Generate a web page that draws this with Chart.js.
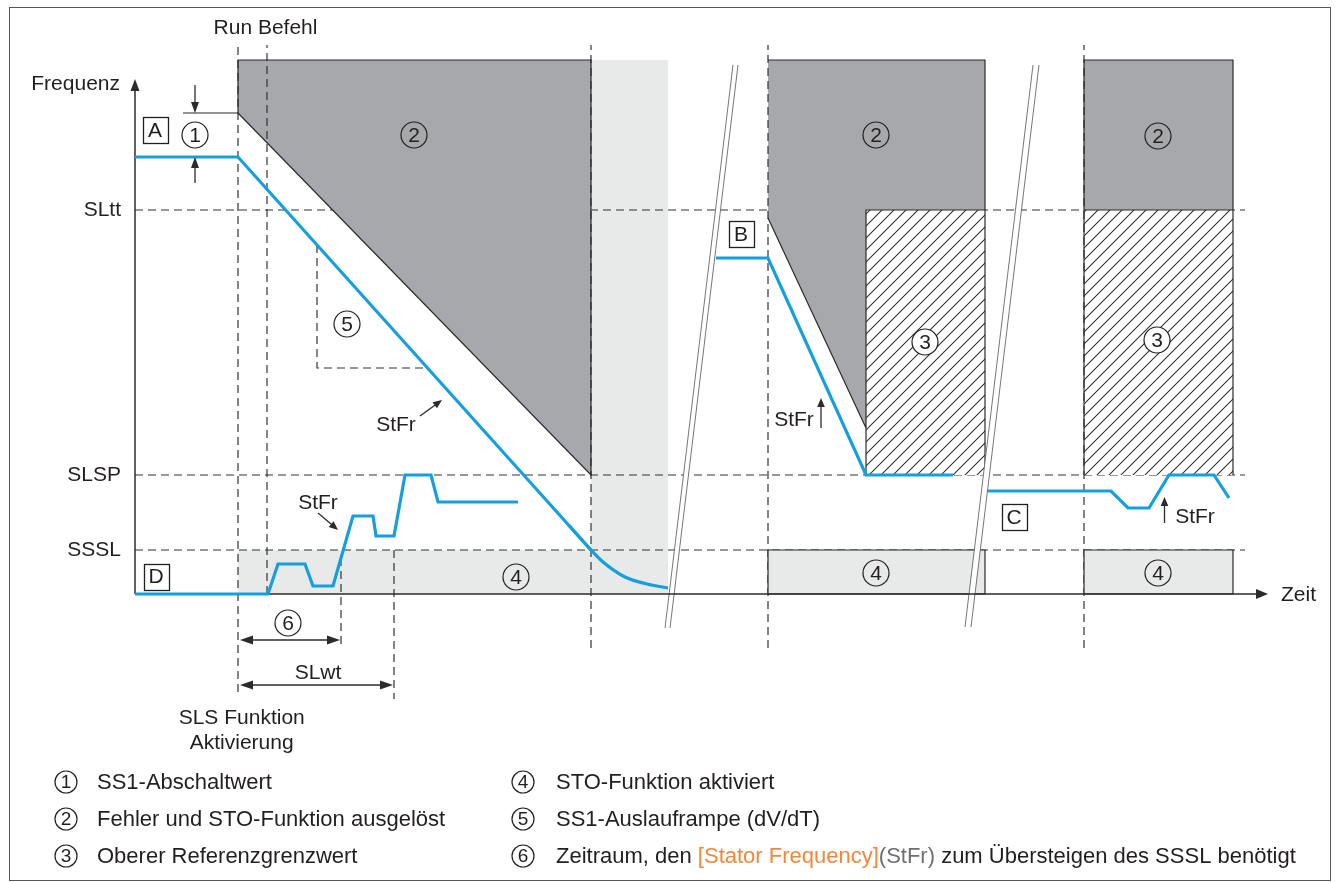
<!DOCTYPE html>
<html lang="de">
<head>
<meta charset="utf-8">
<title>SLS – Frequenz / Zeit</title>
<script src="https://cdn.jsdelivr.net/npm/chart.js@4.4.1/dist/chart.umd.min.js"></script>
<style>
html,body{margin:0;padding:0;background:#fff;}
canvas{display:block;}
</style>
</head>
<body>
<canvas id="c" width="1339" height="882"></canvas>
<script>
// ---------- thresholds (frequency units) ----------
const thresholdNames  = ['SLtt', 'SLSP', 'SSSL'];
const thresholdValues = [38.4, 11.9, 4.4];
const thresholdEnd = 111.0;

// ---------- event markers (time units) ----------
const eventTimes = [10.3, 13.2, 20.6, 25.9, 45.6, 63.3, 94.9];
const eventFrom  = [-9.8, 0, 3.6, 4.4, -5.4, -5.4, -5.4];
const eventTo    = [54.9, 54.9, -5.4, -10.5, 54.9, 54.9, 54.9];

// SS1 ramp slope triangle (5)
const rampTri_t = [18.2, 18.2, 29.25];
const rampTri_f = [34.9, 22.6, 22.6];

// ---------- StFr curves ----------
const caseA_t = [0, 10.3, 45.6];
const caseA_f = [43.7, 43.7, 4.4];
const caseAtail_t = [43.4, 45.6, 46.8, 49.0, 51.2, 53.3];
const caseAtail_f = [6.85, 4.4, 3.2, 1.7, 1.0, 0.6];
const caseB_t = [58.1, 63.3, 73.1, 81.8];
const caseB_f = [33.6, 33.6, 11.9, 11.9];
const caseC_t = [85.3, 97.6, 99.3, 101.4, 103.4, 107.9, 109.4];
const caseC_f = [10.3, 10.3, 8.6, 8.6, 11.9, 11.9, 9.6];
const caseD_t = [0, 13.3, 14.3, 17.0, 17.8, 19.8, 21.8, 23.8, 24.1, 25.9, 27.0, 29.6, 30.3, 38.3];
const caseD_f = [0, 0, 3.0, 3.0, 0.8, 0.8, 7.8, 7.8, 5.8, 5.8, 11.9, 11.9, 9.2, 9.2];

// ---------- zones ----------
const faultZone1_t = [10.3, 10.3, 45.6, 45.6];
const faultZone1_f = [48.1, 53.4, 53.4, 11.9];
const faultZone2_t = [63.3, 85.0, 85.0, 73.1, 73.1, 63.3];
const faultZone2_f = [53.4, 53.4, 38.4, 38.4, 16.6, 37.6];
const faultZone3_t = [94.9, 109.8, 109.8, 94.9];
const faultZone3_f = [53.4, 53.4, 38.4, 38.4];
const refZone1_t = [73.1, 85.0, 85.0, 73.1];
const refZone1_f = [38.4, 38.4, 11.9, 11.9];
const refZone2_t = [94.9, 109.8, 109.8, 94.9];
const refZone2_f = [38.4, 38.4, 11.9, 11.9];
const stoZone1_t = [10.3, 10.3, 45.6, 45.6, 53.3, 53.3];
const stoZone1_f = [0, 4.4, 4.4, 53.4, 53.4, 0];
const stoZone2_t = [63.3, 63.3, 85.0, 85.0, 63.3];
const stoZone2_f = [0, 4.4, 4.4, 0, 0];
const stoZone3_t = [94.9, 94.9, 109.8, 109.8, 94.9];
const stoZone3_f = [0, 4.4, 4.4, 0, 0];

// zone outlines (null = gap)
const outline1_t = [4.8, 10.3, 10.3, 45.6, 45.6, 10.3];
const outline1_f = [48.1, 48.1, 53.4, 53.4, 11.9, 48.1];
const outline2_t = [63.3, 73.1, null, 73.1, 73.1, 85.0, null, 85.0, 85.0, 63.3];
const outline2_f = [37.6, 16.6, null, 11.9, 38.4, 38.4, null, 11.9, 53.4, 53.4];
const outline3_t = [94.9, 94.9, 109.8, 109.8, null, 94.9, 109.8];
const outline3_f = [11.9, 53.4, 53.4, 11.9, null, 38.4, 38.4];

// time-axis breaks
const break1_t = [53.0, 59.8, 60.3, 53.5];
const break1_f = [-3.4, 52.9, 52.9, -3.4];
const break2_t = [83.0, 89.8, 90.4, 83.6];
const break2_f = [-3.3, 52.9, 52.9, -3.3];

// axes
const axisTimeEnd = 112.2;
const axisFreqEnd = 50.3;

// ---------- annotations ----------
const circleNums = [1, 2, 2, 2, 3, 3, 4, 4, 4, 5, 6];
const circleT    = [6.0, 27.9, 74.1, 102.3, 79.0, 102.2, 38.1, 74.1, 102.3, 21.2, 15.3];
const circleF    = [45.9, 45.9, 45.9, 45.8, 25.2, 25.4, 1.7, 2.1, 2.1, 27.0, -2.9];
const boxLetters = ['A', 'B', 'C', 'D'];
const boxT = [2.0, 60.6, 87.9, 2.1];
const boxF = [46.4, 36.0, 7.7, 1.75];
const stfrT = [26.1, 18.3, 65.9, 106.0];
const stfrF = [16.9, 9.1, 17.4, 7.7];
const stfrArrowFromT = [28.5, 18.3, 68.6, 102.95];
const stfrArrowFromF = [17.8, 8.1, 16.6, 7.1];
const stfrArrowToT   = [30.7, 20.3, 68.6, 102.95];
const stfrArrowToF   = [19.4, 6.4, 19.6, 9.7];

const legendLeft  = ['SS1-Abschaltwert', 'Fehler und STO-Funktion ausgelöst', 'Oberer Referenzgrenzwert'];
const legendRight = ['STO-Funktion aktiviert', 'SS1-Auslauframpe (dV/dT)'];
const legendLast  = [['Zeitraum, den ', '#231f20'], ['[Stator Frequency]', '#f5863a'], ['(StFr)', '#6d6e71'], [' zum Übersteigen des SSSL benötigt', '#231f20']];

// ---------- styles ----------
const BLUE = '#14a0de', DARK = '#2b2b2b', GRAY = '#a6a8ab', LIGHT = '#e8e9e9', TXT = '#231f20';
const FONT = '"Liberation Sans", Arial, Helvetica, sans-serif';

const canvas = document.getElementById('c');
const mainCtx = canvas.getContext('2d');
const hatch = (() => {
  const s = 12, c = document.createElement('canvas');
  c.width = s; c.height = s;
  const g = c.getContext('2d');
  g.fillStyle = '#fff'; g.fillRect(0, 0, s, s);
  g.strokeStyle = '#333'; g.lineWidth = 1.1;
  g.beginPath();
  g.moveTo(-1, s + 1); g.lineTo(s + 1, -1);
  g.moveTo(-1, 1); g.lineTo(1, -1);
  g.moveTo(s - 1, s + 1); g.lineTo(s + 1, s - 1);
  g.stroke();
  return mainCtx.createPattern(c, 'repeat');
})();

function pts(ts, fs) {
  const out = [];
  for (let i = 0; i < ts.length; i++) {
    const t = ts[i] === null ? ts[i - 1] : ts[i];
    out.push({x: t, y: fs[i]});
  }
  return out;
}
function ds(label, data, opt) {
  return Object.assign({label, data, pointRadius: 0, pointHoverRadius: 0, borderWidth: 0,
    borderColor: 'rgba(0,0,0,0)', backgroundColor: 'rgba(0,0,0,0)', fill: false, tension: 0,
    spanGaps: false, borderCapStyle: 'butt'}, opt);
}
const dash = {borderColor: '#333', borderWidth: 1.2, borderDash: [8, 5]};
const outline = {borderColor: DARK, borderWidth: 1.2};
const blue = {borderColor: BLUE, borderWidth: 3.2, borderJoinStyle: 'miter'};

const layers = [];
layers.push(ds('STO zone', pts(stoZone1_t, stoZone1_f), {fill: 'shape', backgroundColor: LIGHT}));
thresholdValues.forEach((v, i) => layers.push(ds(thresholdNames[i], [{x: 0, y: v}, {x: thresholdEnd, y: v}], dash)));
layers.push(ds('fault 1', pts(faultZone1_t, faultZone1_f), {fill: 'shape', backgroundColor: GRAY}));
layers.push(ds('fault 2', pts(faultZone2_t, faultZone2_f), {fill: 'shape', backgroundColor: GRAY}));
layers.push(ds('fault 3', pts(faultZone3_t, faultZone3_f), {fill: 'shape', backgroundColor: GRAY}));
layers.push(ds('ref 1', pts(refZone1_t, refZone1_f), {fill: 'shape', backgroundColor: hatch}));
layers.push(ds('ref 2', pts(refZone2_t, refZone2_f), {fill: 'shape', backgroundColor: hatch}));
eventTimes.forEach((t, i) => layers.push(ds('event ' + i, [{x: t, y: eventFrom[i]}, {x: t, y: eventTo[i]}], dash)));
layers.push(ds('SS1 ramp', pts(rampTri_t, rampTri_f), dash));
layers.push(ds('outline 1', pts(outline1_t, outline1_f), outline));
layers.push(ds('outline 2', pts(outline2_t, outline2_f), outline));
layers.push(ds('outline 3', pts(outline3_t, outline3_f), outline));
layers.push(ds('STO 2', pts(stoZone2_t, stoZone2_f), Object.assign({fill: 'shape', backgroundColor: LIGHT}, outline)));
layers.push(ds('STO 3', pts(stoZone3_t, stoZone3_f), Object.assign({fill: 'shape', backgroundColor: LIGHT}, outline)));
[[break1_t, break1_f], [break2_t, break2_f]].forEach(([bt, bf], k) => {
  layers.push(ds('break ' + k, pts(bt, bf), {fill: 'shape', backgroundColor: '#fff'}));
  layers.push(ds('break edge a' + k, [{x: bt[0], y: bf[0]}, {x: bt[1], y: bf[1]}], {borderColor: '#666', borderWidth: 0.9}));
  layers.push(ds('break edge b' + k, [{x: bt[3], y: bf[3]}, {x: bt[2], y: bf[2]}], {borderColor: '#666', borderWidth: 0.9}));
});
layers.push(ds('time axis', [{x: 0, y: 0}, {x: axisTimeEnd, y: 0}], {borderColor: DARK, borderWidth: 1.5}));
layers.push(ds('freq axis', [{x: 0, y: 0}, {x: 0, y: axisFreqEnd}], {borderColor: DARK, borderWidth: 1.5}));
layers.push(ds('StFr A', pts(caseA_t, caseA_f), blue));
layers.push(ds('StFr A tail', pts(caseAtail_t, caseAtail_f), Object.assign({cubicInterpolationMode: 'monotone'}, blue)));
layers.push(ds('StFr B', pts(caseB_t, caseB_f), blue));
layers.push(ds('StFr C', pts(caseC_t, caseC_f), blue));
layers.push(ds('StFr D', pts(caseD_t, caseD_f), blue));
layers.forEach((d, i) => { d.order = layers.length - i; });

function head(ctx, fx, fy, tx, ty, len, half) {
  const a = Math.atan2(ty - fy, tx - fx);
  ctx.beginPath();
  ctx.moveTo(tx, ty);
  ctx.lineTo(tx - len * Math.cos(a) + half * Math.sin(a), ty - len * Math.sin(a) - half * Math.cos(a));
  ctx.lineTo(tx - len * Math.cos(a) - half * Math.sin(a), ty - len * Math.sin(a) + half * Math.cos(a));
  ctx.closePath();
  ctx.fill();
}
function arrow(ctx, fx, fy, tx, ty, len, half, both) {
  const a = Math.atan2(ty - fy, tx - fx);
  ctx.beginPath();
  ctx.moveTo(both ? fx + (len - 1) * Math.cos(a) : fx, both ? fy + (len - 1) * Math.sin(a) : fy);
  ctx.lineTo(tx - (len - 1) * Math.cos(a), ty - (len - 1) * Math.sin(a));
  ctx.stroke();
  head(ctx, fx, fy, tx, ty, len, half);
  if (both) head(ctx, tx, ty, fx, fy, len, half);
}
function circled(ctx, x, y, r, n, size, fillBg) {
  ctx.beginPath();
  ctx.arc(x, y, r, 0, Math.PI * 2);
  if (fillBg) { ctx.fillStyle = '#fff'; ctx.fill(); }
  ctx.lineWidth = 1.2; ctx.strokeStyle = TXT; ctx.stroke();
  ctx.fillStyle = TXT;
  ctx.font = size + 'px ' + FONT;
  ctx.textAlign = 'center'; ctx.textBaseline = 'middle';
  ctx.fillText(String(n), x, y + 1);
}

const annotate = {
  id: 'annotate',
  afterDatasetsDraw(chart) {
    const ctx = chart.ctx;
    const X = v => chart.scales.x.getPixelForValue(v);
    const Y = v => chart.scales.y.getPixelForValue(v);
    ctx.save();
    ctx.fillStyle = DARK; ctx.strokeStyle = DARK; ctx.lineWidth = 1.3;
    // axis arrow heads
    head(ctx, X(0), Y(0), X(0), Y(axisFreqEnd + 1.2), 12, 4.5);
    head(ctx, X(0), Y(0), X(axisTimeEnd + 1.1), Y(0), 12, 5);
    // SS1 threshold arrows
    arrow(ctx, X(6.0), Y(50.9), X(6.0), Y(48.1), 11, 4);
    arrow(ctx, X(6.0), Y(41.1), X(6.0), Y(43.7), 11, 4);
    // StFr arrows
    for (let i = 0; i < stfrT.length; i++) {
      arrow(ctx, X(stfrArrowFromT[i]), Y(stfrArrowFromF[i]), X(stfrArrowToT[i]), Y(stfrArrowToF[i]), 9, 3.8);
    }
    // dimension arrows
    arrow(ctx, X(10.5), Y(-4.6), X(20.5), Y(-4.6), 13, 4.5, true);
    arrow(ctx, X(10.5), Y(-9.1), X(25.8), Y(-9.1), 13, 4.5, true);

    ctx.fillStyle = TXT;
    ctx.font = '21px ' + FONT;
    ctx.textBaseline = 'middle';
    ctx.textAlign = 'center';
    ctx.fillText('Run Befehl', X(13.05), Y(56.6));
    ctx.fillText('SLS Funktion', X(10.67), Y(-12.4));
    ctx.fillText('Aktivierung', X(10.67), Y(-14.9));
    ctx.fillText('SLwt', X(18.3), Y(-7.9));
    stfrT.forEach((t, i) => ctx.fillText('StFr', X(t), Y(stfrF[i])));
    ctx.textAlign = 'right';
    ctx.fillText('Frequenz', X(-1.5), Y(51.0));
    thresholdNames.forEach((n, i) => ctx.fillText(n, X(-1.4), Y(thresholdValues[i])));
    ctx.textAlign = 'left';
    ctx.fillText('Zeit', X(114.6), Y(-0.1));

    // boxed letters
    boxLetters.forEach((L, i) => {
      const cx = X(boxT[i]), cy = Y(boxF[i]);
      ctx.lineWidth = 1.3; ctx.strokeStyle = TXT;
      ctx.strokeRect(Math.round(cx - 12.5) + 0.5, Math.round(cy - 13) + 0.5, 25, 26);
      ctx.fillStyle = TXT; ctx.textAlign = 'center';
      ctx.font = '21px ' + FONT;
      ctx.fillText(L, cx, cy + 1);
    });
    // circled numbers
    circleNums.forEach((n, i) => circled(ctx, X(circleT[i]), Y(circleF[i]), 13, n, 21, n === 3));

    // legend
    const rows = [782, 819, 856];
    legendLeft.forEach((s, i) => {
      circled(ctx, 66, rows[i], 11, i + 1, 19, false);
      ctx.font = '22px ' + FONT; ctx.textAlign = 'left'; ctx.fillStyle = TXT;
      ctx.fillText(s, 97, rows[i] + 1);
    });
    legendRight.forEach((s, i) => {
      circled(ctx, 523, rows[i], 11, i + 4, 19, false);
      ctx.font = '22px ' + FONT; ctx.textAlign = 'left'; ctx.fillStyle = TXT;
      ctx.fillText(s, 556, rows[i] + 1);
    });
    circled(ctx, 523, rows[2], 11, 6, 19, false);
    ctx.font = '22px ' + FONT; ctx.textAlign = 'left';
    let x = 556;
    legendLast.forEach(([s, col]) => {
      ctx.fillStyle = col;
      ctx.fillText(s, x, rows[2] + 1);
      x += ctx.measureText(s).width;
    });

    // frame
    ctx.strokeStyle = '#555'; ctx.lineWidth = 1;
    ctx.strokeRect(9.5, 7.5, 1321, 873);
    ctx.restore();
  }
};

new Chart(canvas, {
  type: 'line',
  data: {datasets: layers},
  options: {
    responsive: false,
    animation: false,
    events: [],
    devicePixelRatio: 1,
    layout: {padding: {left: 125, right: 49, top: 40, bottom: 182}},
    scales: {
      x: {type: 'linear', min: -1, max: 115.5, display: false},
      y: {type: 'linear', min: -10.6, max: 55.4, display: false}
    },
    plugins: {legend: {display: false}, tooltip: {enabled: false}, title: {display: false}},
    elements: {line: {borderJoinStyle: 'miter'}}
  },
  plugins: [annotate]
});
</script>
</body>
</html>
